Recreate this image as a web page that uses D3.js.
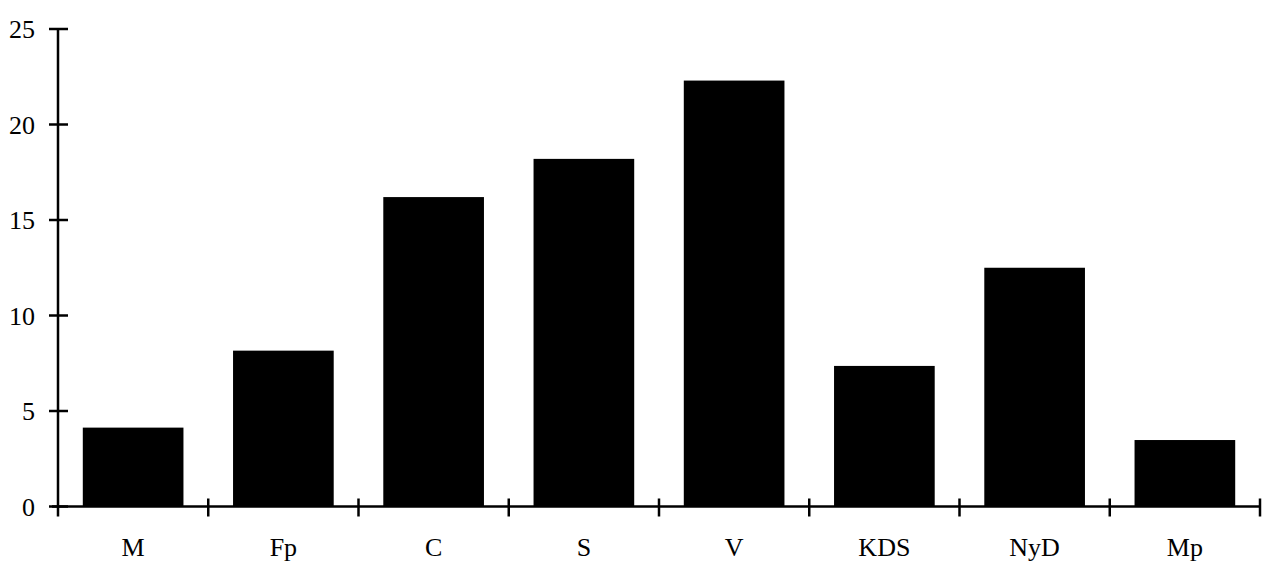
<!DOCTYPE html>
<html>
<head>
<meta charset="utf-8">
<script src="https://cdn.jsdelivr.net/npm/d3@7"></script>
<style>
html,body{margin:0;padding:0;background:#fff;}
svg{display:block;}
text{font-family:"Liberation Serif","DejaVu Serif",serif;fill:#000;}
</style>
</head>
<body>
<svg id="chart" width="1266" height="561"></svg>
<script>
const categories = ["M","Fp","C","S","V","KDS","NyD","Mp"];
const values = [4.13, 8.16, 16.2, 18.2, 22.3, 7.36, 12.5, 3.48];
const yTicks = [0,5,10,15,20,25];

(function(){
const svg = d3.select("#chart");
const mLeft = 58, mRight = 1260, mTop = 29, mBottom = 506.5;

const x = d3.scaleBand().domain(categories).range([mLeft, mRight])
  .paddingInner(0.33).paddingOuter(0.165);
const y = d3.scaleLinear().domain([0,25]).range([mBottom, mTop]);

// bars
svg.append("g").selectAll("rect").data(categories).join("rect")
  .attr("x", d => x(d))
  .attr("width", x.bandwidth())
  .attr("y", (d,i) => y(values[i]))
  .attr("height", (d,i) => y(0) - y(values[i]))
  .attr("fill", "#000");

// y axis
const ya = svg.append("g");
ya.append("line").attr("x1", mLeft).attr("x2", mLeft)
  .attr("y1", y(25)).attr("y2", mBottom + 10)
  .attr("stroke", "#000").attr("stroke-width", 2.5);
ya.selectAll("line.t").data(yTicks).join("line").attr("class","t")
  .attr("x1", mLeft - 9).attr("x2", mLeft + 10)
  .attr("y1", d => y(d)).attr("y2", d => y(d))
  .attr("stroke", "#000").attr("stroke-width", 2.5);
ya.selectAll("text").data(yTicks).join("text")
  .attr("x", 35).attr("y", d => y(d))
  .attr("dy", "0.35em")
  .attr("text-anchor", "end")
  .attr("font-size", 26)
  .text(d => d);

// x axis
const xa = svg.append("g");
xa.append("line").attr("x1", mLeft - 6).attr("x2", mRight)
  .attr("y1", mBottom).attr("y2", mBottom)
  .attr("stroke", "#000").attr("stroke-width", 2.5);
const step = x.step();
const boundaries = categories.map((d,i) => x(d) - x.paddingOuter()*step + step);
xa.selectAll("line.t").data(boundaries).join("line").attr("class","t")
  .attr("x1", d => d).attr("x2", d => d)
  .attr("y1", mBottom - 8).attr("y2", mBottom + 10)
  .attr("stroke", "#000").attr("stroke-width", 2.5);
xa.selectAll("text").data(categories).join("text")
  .attr("x", d => x(d) + x.bandwidth()/2)
  .attr("y", 556)
  .attr("text-anchor", "middle")
  .attr("font-size", 26)
  .text(d => d);
})();
</script>
</body>
</html>
